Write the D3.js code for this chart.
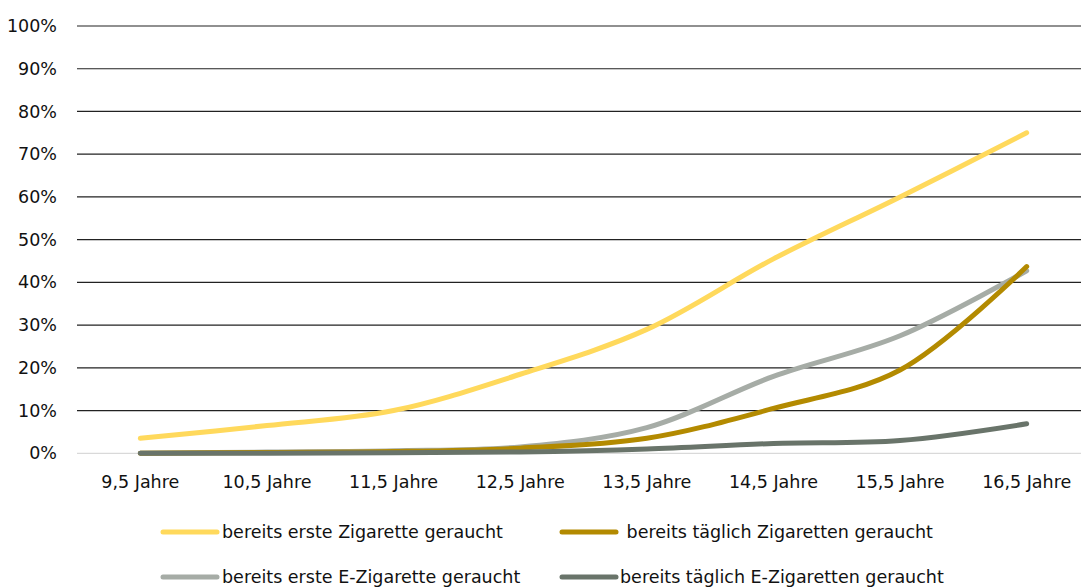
<!DOCTYPE html>
<html>
<head>
<meta charset="utf-8">
<script src="https://cdn.jsdelivr.net/npm/d3@7"></script>
<style>
  body { margin: 0; background: #fff; }
  svg text { font-family: "DejaVu Sans", sans-serif; font-size: 17.5px; fill: #111; }
</style>
</head>
<body>
<svg width="1081" height="588"></svg>
<script>
/* data */
var categories = ["9,5 Jahre", "10,5 Jahre", "11,5 Jahre", "12,5 Jahre", "13,5 Jahre", "14,5 Jahre", "15,5 Jahre", "16,5 Jahre"];
var yTicks = [0, 10, 20, 30, 40, 50, 60, 70, 80, 90, 100];

var ersteZigarette = [3.5, 6.5, 10, 18.5, 29, 45.5, 60, 75];
var taeglichZigaretten = [0, 0.2, 0.4, 1.2, 3.5, 10.5, 19.5, 43.7];
var ersteEZigarette = [0, 0.3, 0.6, 1.5, 6, 18, 27.5, 42.7];
var taeglichEZigaretten = [0, 0, 0.1, 0.3, 1, 2.3, 3, 6.9];

var seriesNames = ["bereits erste Zigarette geraucht", " bereits täglich Zigaretten geraucht",
                   "bereits erste E-Zigarette geraucht", "bereits täglich E-Zigaretten geraucht"];
var seriesColors = ["#ffd95c", "#b38a00", "#a6aca6", "#69746a"];

var series = [ersteZigarette, taeglichZigaretten, ersteEZigarette, taeglichEZigaretten];

var svg = d3.select("svg"),
    margin = {top: 26, left: 77},
    width = 1013,
    height = 427.3,
    g = svg.append("g").attr("transform", "translate(" + margin.left + "," + margin.top + ")");

var x = d3.scaleBand().domain(categories).range([0, width]);
var y = d3.scaleLinear().domain([0, 100]).range([height, 0]);

/* gridlines */
g.selectAll(".grid")
    .data(yTicks)
  .enter().append("line")
    .attr("x1", 0)
    .attr("x2", width)
    .attr("y1", function(d) { return y(d); })
    .attr("y2", function(d) { return y(d); })
    .attr("stroke", function(d) { return d === 0 ? "#d9d9d9" : "#222"; })
    .attr("stroke-width", 1.2);

/* y axis labels */
g.append("g")
    .call(d3.axisLeft(y).tickValues(yTicks).tickSize(0).tickPadding(20).tickFormat(function(d) { return d + "%"; }))
    .call(function(a) { a.select(".domain").remove(); })
    .selectAll("text")
    .attr("fill", "#111")
    .style("font-size", "17.5px")
    .style("font-family", "DejaVu Sans, sans-serif");

/* x axis labels */
g.append("g")
    .attr("transform", "translate(0," + height + ")")
    .call(d3.axisBottom(x).tickSize(0).tickPadding(22))
    .call(function(a) { a.select(".domain").remove(); })
    .selectAll("text")
    .attr("fill", "#111")
    .style("font-size", "17.5px")
    .style("font-family", "DejaVu Sans, sans-serif");

var line = d3.line()
    .x(function(d, i) { return x(categories[i]) + x.bandwidth() / 2; })
    .y(function(d) { return y(d); })
    .curve(d3.curveCatmullRom.alpha(0.5));

/* lines, drawn so the dark ones stay on top at the baseline */
[0, 2, 1, 3].forEach(function(k) {
  g.append("path")
      .datum(series[k])
      .attr("fill", "none")
      .attr("stroke", seriesColors[k])
      .attr("stroke-width", 5)
      .attr("stroke-linejoin", "round")
      .attr("stroke-linecap", "round")
      .attr("d", line);
});

/* legend */
var legendPos = [[163, 532], [562, 532], [163, 577], [562, 577]];
var textX = [222, 621, 222, 620];

var legend = svg.selectAll(".legend")
    .data(seriesNames)
  .enter().append("g")
    .attr("transform", function(d, i) { return "translate(" + legendPos[i][0] + "," + legendPos[i][1] + ")"; });

legend.append("line")
    .attr("x1", 0)
    .attr("x2", 54)
    .attr("stroke", function(d, i) { return seriesColors[i]; })
    .attr("stroke-width", 5)
    .attr("stroke-linecap", "round");

legend.append("text")
    .attr("x", function(d, i) { return textX[i] - legendPos[i][0]; })
    .attr("dy", "0.35em")
    .style("white-space", "pre")
    .text(function(d) { return d; });
</script>
</body>
</html>
